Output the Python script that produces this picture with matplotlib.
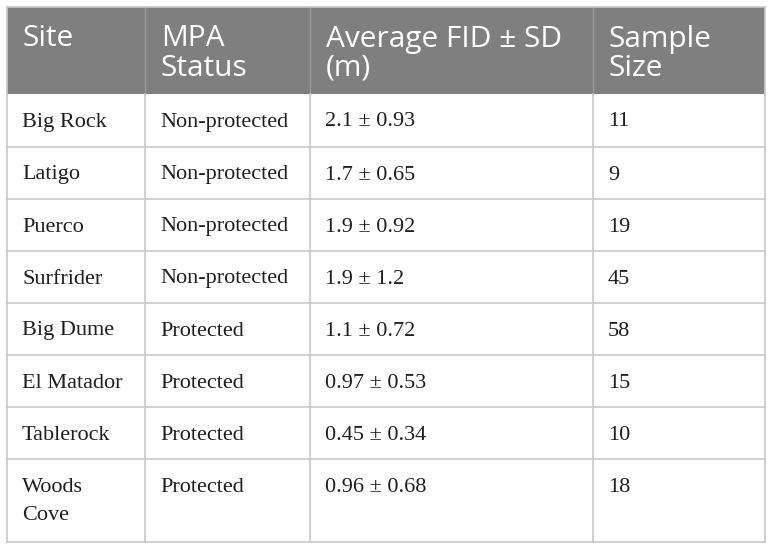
import matplotlib.pyplot as plt
from matplotlib.patches import Rectangle

# Table contents
headers = ["Site", "MPA\nStatus", "Average FID ± SD\n(m)", "Sample\nSize"]
sites = ["Big Rock", "Latigo", "Puerco", "Surfrider", "Big Dume", "El Matador", "Tablerock", "Woods\nCove"]
status = ["Non-protected", "Non-protected", "Non-protected", "Non-protected",
          "Protected", "Protected", "Protected", "Protected"]
fid_mean = ["2.1", "1.7", "1.9", "1.9", "1.1", "0.97", "0.45", "0.96"]
fid_sd = ["0.93", "0.65", "0.92", "1.2", "0.72", "0.53", "0.34", "0.68"]
sample_size = [11, 9, 19, 45, 58, 15, 10, 18]

# Layout in pixels
col_x = [7, 145, 310, 593, 765]
top = 7
header_h = 87
row_h = [53, 52, 52, 52, 52, 52, 52, 83]
pad_x = 15
line_col = "#c8c8c8"
head_col = "#7f7f7f"

fig = plt.figure(figsize=(7.72, 5.50), dpi=100)
ax = fig.add_axes([0, 0, 1, 1])
ax.set_xlim(0, 772)
ax.set_ylim(550, 0)
ax.axis("off")


def put_lines(x, y0, step, txt, **kw):
    # one text object per line so the spacing is exact
    for k, line in enumerate(txt.split("\n")):
        ax.text(x, y0 + k * step, line, va="center", ha="left", **kw)


# header
ax.add_patch(Rectangle((col_x[0], top), col_x[-1] - col_x[0], header_h,
                       facecolor=head_col, edgecolor="none"))
for x in col_x[1:-1]:
    ax.plot([x, x], [top, top + header_h], color="#999999", lw=1)
for j, h in enumerate(headers):
    put_lines(col_x[j] + pad_x + 1, top + 32, 29.5, h, color="white",
              fontsize=21.5, family="Open Sans")

# body rows
cols = [sites, status,
        [f"{m} ± {s}" for m, s in zip(fid_mean, fid_sd)],
        [str(n) for n in sample_size]]
y = top + header_h
for i, h in enumerate(row_h):
    for j in range(4):
        put_lines(col_x[j] + pad_x, y + 28, 28, cols[j][i], fontsize=16,
                  family="Liberation Serif", color="#1e1e1e")
    y += h
    ax.plot([col_x[0], col_x[-1]], [y, y], color=line_col, lw=1.2)

bottom = y
for x in col_x:
    ax.plot([x, x], [top + header_h, bottom], color=line_col, lw=1.2)
ax.plot([col_x[0], col_x[-1]], [top, top], color=line_col, lw=1.2)
for x in (col_x[0], col_x[-1]):
    ax.plot([x, x], [top, top + header_h], color=line_col, lw=1.2)

fig.savefig("out.png", dpi=100)
